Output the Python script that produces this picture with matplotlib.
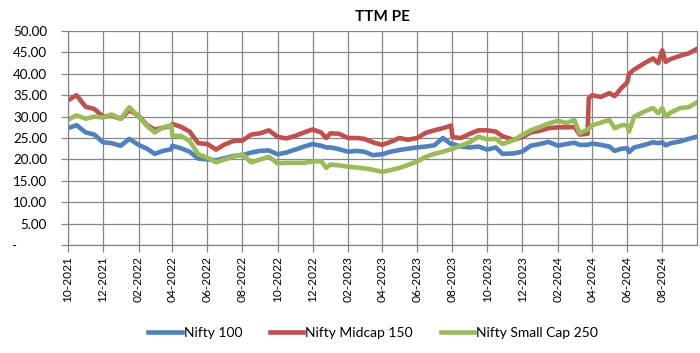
import matplotlib
matplotlib.use("Agg")
import matplotlib.pyplot as plt
import matplotlib.dates as mdates
import matplotlib.ticker as mticker
import pandas as pd

# dates (roughly twice a month, extra points around the jumps)
dates = ["2021-10-01", "2021-10-16", "2021-11-01", "2021-11-16", "2021-12-01", "2021-12-16",
         "2022-01-01", "2022-01-16", "2022-02-01", "2022-02-16", "2022-03-01", "2022-03-16",
         "2022-03-30", "2022-04-01", "2022-04-16", "2022-05-01", "2022-05-16", "2022-06-01",
         "2022-06-16", "2022-07-01", "2022-07-16", "2022-08-01", "2022-08-16", "2022-09-01",
         "2022-09-16", "2022-10-01", "2022-10-16", "2022-11-01", "2022-11-16", "2022-12-01",
         "2022-12-16", "2022-12-25", "2023-01-01", "2023-01-16", "2023-02-01", "2023-02-16",
         "2023-03-01", "2023-03-16", "2023-04-01", "2023-04-16", "2023-05-01", "2023-05-16",
         "2023-06-01", "2023-06-16", "2023-07-01", "2023-07-16", "2023-07-30", "2023-08-02",
         "2023-08-16", "2023-09-01", "2023-09-16", "2023-10-01", "2023-10-16", "2023-10-28",
         "2023-11-16", "2023-12-01", "2023-12-16", "2024-01-01", "2024-01-16", "2024-02-01",
         "2024-02-16", "2024-03-01", "2024-03-10", "2024-03-24", "2024-03-26", "2024-04-01",
         "2024-04-16", "2024-05-01", "2024-05-10", "2024-05-22", "2024-06-01", "2024-06-04",
         "2024-06-13", "2024-07-01", "2024-07-16", "2024-07-25", "2024-08-01", "2024-08-07",
         "2024-08-16", "2024-09-01", "2024-09-16", "2024-09-30"]

nifty100 = [27.3, 28.0, 26.3, 25.8, 24.0, 23.8,
            23.2, 24.8, 23.4, 22.5, 21.3, 22.0,
            22.4, 23.2, 22.6, 21.8, 20.2, 20.0,
            19.8, 20.3, 20.8, 21.0, 21.6, 22.0,
            22.1, 21.2, 21.6, 22.3, 23.0, 23.6,
            23.2, 22.8, 22.8, 22.4, 21.8, 22.0,
            21.8, 21.0, 21.2, 21.8, 22.2, 22.5,
            22.8, 23.0, 23.3, 25.0, 23.6, 23.6,
            23.0, 22.8, 23.0, 22.3, 22.8, 21.3,
            21.4, 21.8, 23.2, 23.6, 24.1, 23.2,
            23.6, 23.9, 23.4, 23.4, 23.5, 23.7,
            23.4, 23.0, 22.0, 22.5, 22.6, 21.7,
            22.8, 23.4, 24.0, 23.8, 24.0, 23.3,
            23.8, 24.2, 24.8, 25.3]

midcap150 = [33.8, 35.0, 32.3, 31.8, 30.0, 30.2,
             29.5, 31.5, 30.2, 28.0, 27.0, 27.4,
             27.8, 28.3, 27.6, 26.5, 23.8, 23.6,
             22.3, 23.5, 24.3, 24.4, 25.8, 26.1,
             26.8, 25.3, 24.9, 25.5, 26.3, 27.0,
             26.3, 25.0, 26.1, 26.0, 25.0, 25.0,
             24.8, 24.0, 23.4, 24.1, 25.0, 24.6,
             25.0, 26.2, 26.8, 27.3, 27.9, 25.2,
             25.0, 26.0, 26.8, 26.8, 26.5, 25.4,
             24.6, 25.2, 26.3, 26.7, 27.3, 27.5,
             27.5, 27.6, 25.8, 26.0, 34.3, 35.0,
             34.6, 35.5, 34.8, 36.7, 38.0, 40.0,
             41.0, 42.5, 43.6, 42.5, 45.5, 42.8,
             43.5, 44.2, 44.8, 45.8]

smallcap250 = [29.3, 30.3, 29.5, 30.0, 29.8, 30.5,
               29.5, 32.2, 30.0, 27.8, 26.3, 27.5,
               28.0, 25.5, 25.5, 24.3, 21.2, 20.4,
               19.3, 20.0, 20.6, 21.2, 19.3, 20.0,
               20.6, 19.1, 19.2, 19.2, 19.2, 19.5,
               19.6, 18.0, 18.8, 18.6, 18.3, 18.1,
               17.9, 17.6, 17.1, 17.5, 18.0, 18.7,
               19.5, 20.6, 21.3, 21.8, 22.4, 22.5,
               23.2, 24.0, 25.3, 24.7, 24.8, 23.6,
               24.5, 25.7, 26.8, 27.6, 28.4, 29.0,
               28.5, 29.2, 26.1, 27.0, 27.2, 28.0,
               28.6, 29.2, 27.3, 28.0, 28.0, 26.5,
               30.0, 31.2, 32.0, 30.8, 32.0, 30.0,
               31.0, 32.0, 32.2, 33.3]

series_names = ["Nifty 100", "Nifty Midcap 150", "Nifty Small Cap 250"]
colors = ["#4F81BD", "#C0504D", "#9BBB59"]

x = pd.to_datetime(dates)

plt.rcParams['font.family'] = ['Lato', 'DejaVu Sans']

fig = plt.figure(figsize=(7, 3.53), dpi=100)
ax = fig.add_axes([0.097, 0.306, 0.899, 0.606])

for vals, name, c in zip([nifty100, midcap150, smallcap250], series_names, colors):
    ax.plot(x, vals, color=c, linewidth=3.3, label=name)

ax.set_xlim(pd.Timestamp("2021-10-01"), pd.Timestamp("2024-09-30 20:00"))
ax.set_ylim(0, 50)
ax.yaxis.set_major_locator(mticker.MultipleLocator(5))
# accounting style: zero shown as a dash
ax.yaxis.set_major_formatter(mticker.FuncFormatter(lambda v, p: "-         " if v == 0 else "%.2f" % v))
ax.xaxis.set_major_locator(mdates.MonthLocator(bymonth=[2, 4, 6, 8, 10, 12]))
ax.xaxis.set_major_formatter(mdates.DateFormatter("%m-%Y"))
plt.setp(ax.get_xticklabels(), rotation=90)

grid_c = "#868686"
ax.grid(True, color=grid_c, linewidth=0.9)
ax.set_axisbelow(True)
ax.spines['top'].set_visible(False)
for side in ['bottom', 'left', 'right']:
    ax.spines[side].set_color(grid_c)
    ax.spines[side].set_linewidth(0.9)
ax.tick_params(axis='both', colors=grid_c, length=5, width=0.9, labelcolor='black')
ax.tick_params(axis='x', labelsize=8.6, pad=3)
ax.tick_params(axis='y', labelsize=9.6, pad=10)

ax.set_title("TTM PE", fontsize=11, fontweight='bold', pad=7)

fig.legend(loc='center', bbox_to_anchor=(0.533, 1 - 333 / 353), ncol=3, frameon=False,
           fontsize=10, handlelength=2.4, columnspacing=2.0, handletextpad=0.15)

fig.savefig("out.png", dpi=100)
